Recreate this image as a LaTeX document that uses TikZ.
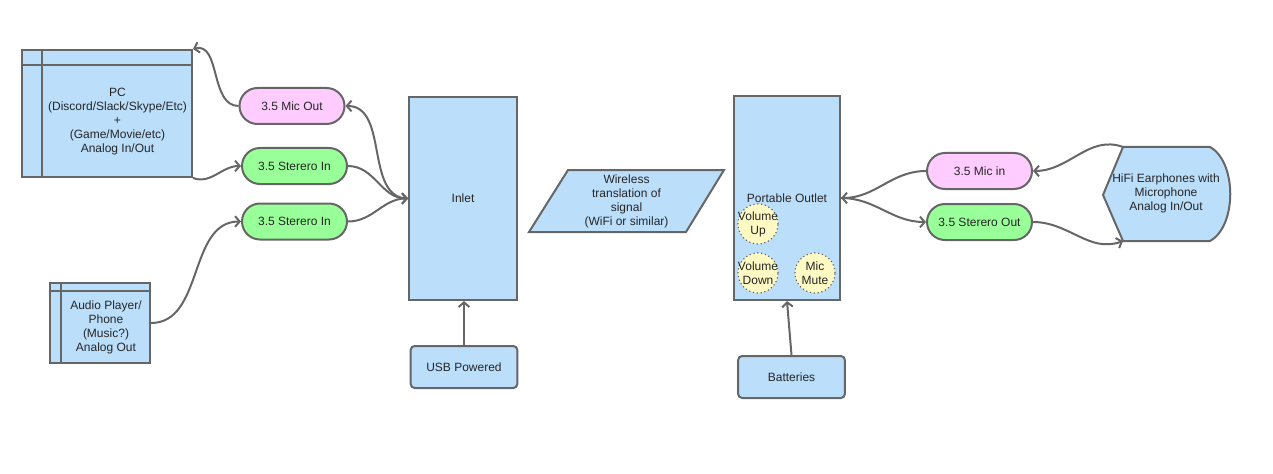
\documentclass[tikz,border=0pt]{standalone}
\usepackage{fontspec}
\setmainfont{Liberation Sans}
\usetikzlibrary{shapes.misc, arrows.meta}
\definecolor{boxblue}{HTML}{BBDEFB}
\definecolor{pinkjack}{HTML}{FFCCFF}
\definecolor{greenjack}{HTML}{99FF99}
\definecolor{knobyellow}{HTML}{FFF9C4}
\definecolor{edgegray}{HTML}{666666}
\begin{document}
\begin{tikzpicture}[x=0.75pt, y=0.75pt, font=\fontsize{9}{10.5}\selectfont, text=black!85,
  box/.style={draw=edgegray, line width=1.5pt, fill=boxblue},
  block/.style={box, rectangle, align=center, inner sep=0pt},
  supply/.style={block, rounded corners=3pt, minimum width=80pt, minimum height=31.5pt},
  jack/.style={draw=edgegray, line width=1.5pt, rounded rectangle, minimum width=78.75pt, minimum height=27pt, inner sep=0pt},
  micjack/.style={jack, fill=pinkjack},
  stjack/.style={jack, fill=greenjack},
  knob/.style={circle, draw=edgegray, dotted, line width=0.9pt, fill=knobyellow, minimum size=30pt, inner sep=0pt},
  knobtext/.style={align=center, inner sep=0pt},
  wire/.style={draw=edgegray, line width=1.5pt, -{Straight Barb[length=3.5pt, width=8pt]}}]
\useasboundingbox (0,0) rectangle (1273,-474);

% left side sources
\node[block, minimum width=127.5pt, minimum height=95.25pt] (pc) at (107,-113.5) {};
\draw[draw=edgegray, line width=1.5pt] ([yshift=-12pt]pc.north west) -- ([yshift=-12pt]pc.north east);
\draw[draw=edgegray, line width=1.5pt] ([xshift=15.75pt]pc.north west) -- ([xshift=15.75pt]pc.south west);
\node[align=center] (pctext) at (117.5,-121.5) {PC\\(Discord/Slack/Skype/Etc)\\+\\(Game/Movie/etc)\\Analog In/Out};

\node[block, minimum width=75pt, minimum height=60pt] (audio) at (100,-323) {};
\draw[draw=edgegray, line width=1.5pt] ([yshift=-6.75pt]audio.north west) -- ([yshift=-6.75pt]audio.north east);
\draw[draw=edgegray, line width=1.5pt] ([xshift=9pt]audio.north west) -- ([xshift=9pt]audio.south west);
\node[align=center] (audiotext) at (106,-327.5) {Audio Player/\\Phone\\(Music?)\\Analog Out};

% jacks
\node[micjack] (micout) at (292,-106) {3.5 Mic Out};
\node[stjack] (stereoA) at (294.5,-166) {3.5 Sterero In};
\node[stjack] (stereoB) at (294.5,-221.5) {3.5 Sterero In};

% inlet
\node[block, minimum width=81pt, minimum height=152.25pt] (inlet) at (463,-198.5) {Inlet};
\node[supply] (usb) at (464,-367) {USB Powered};

% wireless link
\draw[box] (568,-170) -- (724,-170) -- (686,-232) -- (529,-232) -- cycle;
\node[align=center] (wireless) at (626.5,-201) {Wireless\\translation of\\signal\\(WiFi or similar)};

% outlet
\node[block, minimum width=79.5pt, minimum height=153pt] (outlet) at (787,-198) {Portable Outlet};
\node[knob, label={[knobtext]center:Volume\\Up}] (volup) at (758,-224) {};
\node[knob, label={[knobtext]center:Volume\\Down}] (voldown) at (758,-273) {};
\node[knob, label={[knobtext]center:Mic\\Mute}] (micmute) at (815,-273) {};
\node[supply] (batteries) at (791.5,-377) {Batteries};

\node[micjack] (micin) at (979.5,-171) {3.5 Mic in};
\node[stjack] (stereoout) at (979.5,-222) {3.5 Sterero Out};

% earphones
\draw[box] (1103,-195) coordinate (hifiW) -- (1123,-147) coordinate (hifiNW) -- (1210,-147)
  .. controls (1237,-162) and (1237,-226) .. (1210,-241) -- (1123,-241) coordinate (hifiSW) -- cycle;
\node[align=center] (hifi) at (1166,-193.5) {HiFi Earphones with\\Microphone\\Analog In/Out};

% connections
\draw[wire] (inlet.west) to[out=180, in=0] (micout.east);
\draw[wire] (micout.west) to[out=180, in=15] (pc.north east);
\draw[wire] (pc.south east) to[out=-20, in=180] (stereoA.west);
\draw[wire] (stereoA.east) to[out=0, in=180] (inlet.west);
\draw[wire] (stereoB.east) to[out=0, in=180] (inlet.west);
\draw[wire] (audio.east) to[out=0, in=180] (stereoB.west);
\draw[wire] (usb.north) -- (usb.north |- inlet.south);
\draw[wire] (batteries.north) -- (outlet.south);
\draw[wire] (micin.west) to[out=180, in=0] (outlet.east);
\draw[wire] (outlet.east) to[out=0, in=180] (stereoout.west);
\draw[wire] (hifiNW) to[out=160, in=0] (micin.east);
\draw[wire] (stereoout.east) to[out=0, in=200] (hifiSW);
\end{tikzpicture}
\end{document}
